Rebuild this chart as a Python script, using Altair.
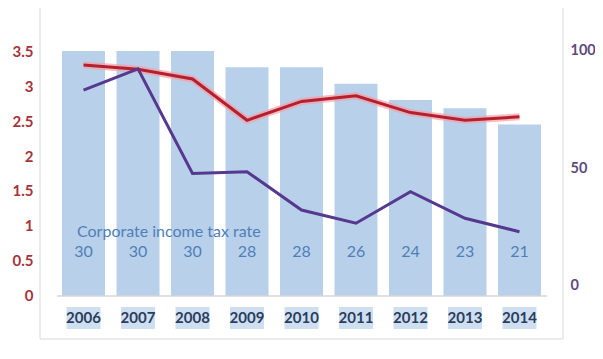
import altair as alt
import pandas as pd

years = ["2006", "2007", "2008", "2009", "2010", "2011", "2012", "2013", "2014"]
tax_rate = [30, 30, 30, 28, 28, 26, 24, 23, 21]
red_values = [3.30, 3.24, 3.10, 2.51, 2.78, 2.86, 2.62, 2.51, 2.56]
purple_values = [83, 92, 47.7, 48.4, 32.2, 26.6, 40, 28.7, 23]
left_ticks = [0, 0.5, 1, 1.5, 2, 2.5, 3, 3.5]
right_ticks = [0, 50, 100]
label_title = "Corporate income tax rate"

df = pd.DataFrame({"year": years, "rate": tax_rate, "red": red_values, "purple": purple_values})
one = pd.DataFrame({"k": [0]})

W, H = 523, 331
FONT = "Lato"
left_dom = [-0.6143, 4.1143]
right_dom = [-22.46, 117.80]

xscale = alt.Scale(domain=years, paddingInner=0.211, paddingOuter=0.404)
X = alt.X("year:N", scale=xscale, axis=None)

left_axis = alt.Axis(values=left_ticks, title=None, domain=False, ticks=False, grid=False,
                     labelExpr="datum.value", labelColor="#a8323a", labelFont=FONT,
                     labelFontSize=15, labelFontWeight="bold", labelPadding=7)
right_axis = alt.Axis(values=right_ticks, title=None, domain=False, ticks=False, grid=False,
                      orient="right", labelColor="#5e4a7c", labelFont=FONT,
                      labelFontSize=14.5, labelFontWeight="bold", labelPadding=7)
lscale = alt.Scale(domain=left_dom, nice=False, zero=False)
rscale = alt.Scale(domain=right_dom, nice=False, zero=False)

base = alt.Chart(df)

bars = base.mark_bar(color="#b9d0ea").transform_calculate(
    h="datum.rate * 3.5 / 30"
).encode(x=X, y=alt.Y("h:Q", scale=lscale, axis=left_axis), y2=alt.datum(0))

baseline = alt.Chart(one).mark_rule(color="#d6d6d6", strokeWidth=1.5).encode(
    x=alt.value(17), x2=alt.value(507), y=alt.value(288))

rate_labels = base.mark_text(font=FONT, fontSize=16, color="#4f7fb8").encode(
    x=X, y=alt.value(244), text="rate:N")

title_text = alt.Chart(one).mark_text(font=FONT, fontSize=16, color="#4f7fb8", align="left").encode(
    x=alt.value(37), y=alt.value(224), text=alt.value(label_title))

year_bg = base.mark_bar(width=34, color="#c6d9f0", opacity=0.85).encode(
    x=X, y=alt.value(299), y2=alt.value(321))

year_text = base.mark_text(font=FONT, fontSize=15, fontWeight="bold", color="#2b3d5c").encode(
    x=X, y=alt.value(310), text="year:N")

red_glow = base.mark_line(color="#f2a0a6", strokeWidth=7, opacity=0.7).encode(
    x=X, y=alt.Y("red:Q", scale=lscale, axis=left_axis))
red_line = base.mark_line(color="#b51f2e", strokeWidth=3).encode(
    x=X, y=alt.Y("red:Q", scale=lscale, axis=left_axis))

purple_line = base.mark_line(color="#56398f", strokeWidth=3).encode(
    x=X, y=alt.Y("purple:Q", scale=rscale, axis=right_axis))

frame_l = alt.Chart(one).mark_rule(color="#d9d9d9").encode(x=alt.value(0), y=alt.value(0), y2=alt.value(H))
frame_r = alt.Chart(one).mark_rule(color="#d9d9d9").encode(x=alt.value(W), y=alt.value(0), y2=alt.value(H))
frame_b = alt.Chart(one).mark_rule(color="#d9d9d9").encode(x=alt.value(0), x2=alt.value(W), y=alt.value(H))

left_group = alt.layer(bars, baseline, rate_labels, title_text, year_bg, year_text,
                       frame_l, frame_r, frame_b, red_glow, red_line)

chart = alt.layer(left_group, purple_line).resolve_scale(y="independent").properties(
    width=W, height=H,
    autosize=alt.AutoSizeParams(type="none"),
    padding={"left": 32, "top": 0, "right": 32, "bottom": 12},
    background="white",
).configure_view(stroke=None)

chart.save("out.html", embed_options={"renderer": "svg", "actions": False})
